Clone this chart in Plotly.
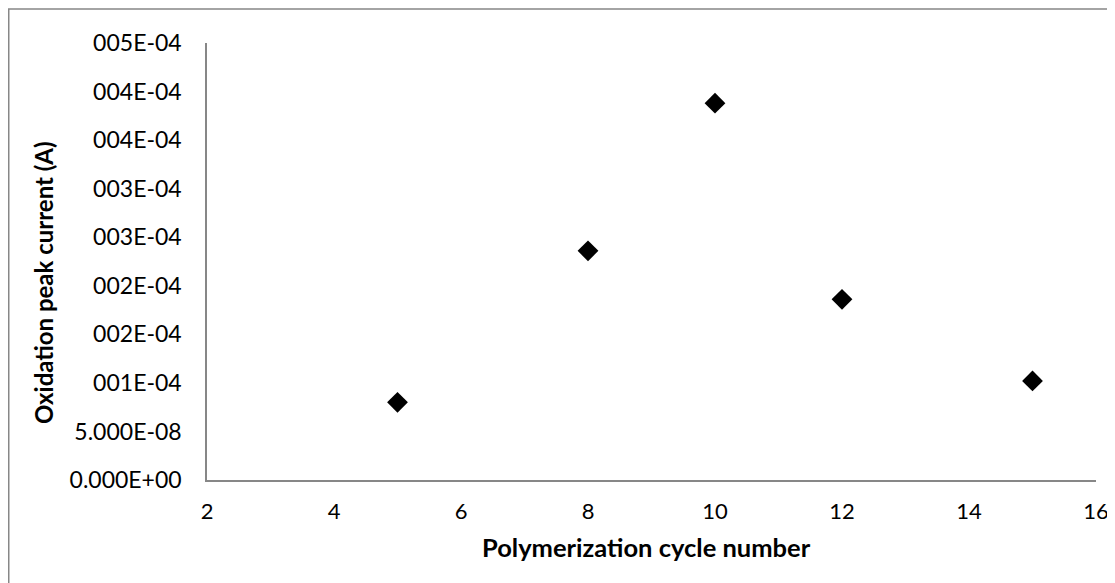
import plotly.graph_objects as go

cycles = [5, 8, 10, 12, 15]
peak_current = [8.0e-5, 2.36e-4, 3.88e-4, 1.86e-4, 1.02e-4]

y_tickvals = [0, 5e-5, 1e-4, 1.5e-4, 2e-4, 2.5e-4, 3e-4, 3.5e-4, 4e-4, 4.5e-4]
y_ticktext = ["0.000E+00", "5.000E-08", "001E-04", "002E-04", "002E-04",
              "003E-04", "003E-04", "004E-04", "004E-04", "005E-04"]
x_tickvals = [2, 4, 6, 8, 10, 12, 14, 16]

x_title = "Polymerization cycle number"
y_title = "Oxidation peak current (A)"

# the page body has an 8px margin, so the figure is placed at (8, 8)
W, H = 1107, 575
L, R, T, B = 199, 19, 35, 103
pw, ph = W - L - R, H - T - B

FONT = "Lato"
AXIS_GREY = "#878787"


def px_x(fx):
    return (fx - L) / pw


def px_y(fy):
    return 1 - (fy - T) / ph


fig = go.Figure()
fig.add_trace(go.Scatter(
    x=cycles, y=peak_current, mode="markers",
    marker=dict(symbol="diamond", size=16, color="black"),
    showlegend=False, cliponaxis=False,
))

fig.update_layout(
    width=W, height=H,
    margin=dict(l=L, r=R, t=T, b=B, autoexpand=False),
    paper_bgcolor="white", plot_bgcolor="white",
    font=dict(family=FONT, size=23, color="black"),
    xaxis=dict(
        range=[2, 16], tickvals=x_tickvals, showgrid=False, zeroline=False,
        showline=True, linecolor=AXIS_GREY, linewidth=1.5, ticks="",
        tickfont=dict(size=22), ticklabelstandoff=11,
    ),
    yaxis=dict(
        range=[0, 4.5e-4], tickvals=y_tickvals, ticktext=y_ticktext,
        showgrid=False, zeroline=False,
        showline=True, linecolor=AXIS_GREY, linewidth=1.5, ticks="",
        tickfont=dict(size=23), ticklabelstandoff=19,
    ),
)

fig.add_annotation(
    text="<b>" + x_title + "</b>", xref="paper", yref="paper",
    x=px_x(638), y=px_y(539), xanchor="center", yanchor="middle",
    showarrow=False, font=dict(family=FONT, size=25.5, color="black"),
)
fig.add_annotation(
    text="<b>" + y_title + "</b>", xref="paper", yref="paper",
    x=px_x(35), y=px_y(275), xanchor="center", yanchor="middle",
    textangle=-90, showarrow=False, font=dict(family=FONT, size=24, color="black"),
)

# outer chart border (left and top edges visible, right/bottom run off the page)
fig.add_shape(
    type="rect", xref="paper", yref="paper",
    x0=px_x(0.75), x1=px_x(W + 10),
    y0=px_y(H + 10), y1=px_y(1),
    line=dict(color=AXIS_GREY, width=1.5), fillcolor="rgba(0,0,0,0)", layer="below",
)

fig.write_html("out.html")
